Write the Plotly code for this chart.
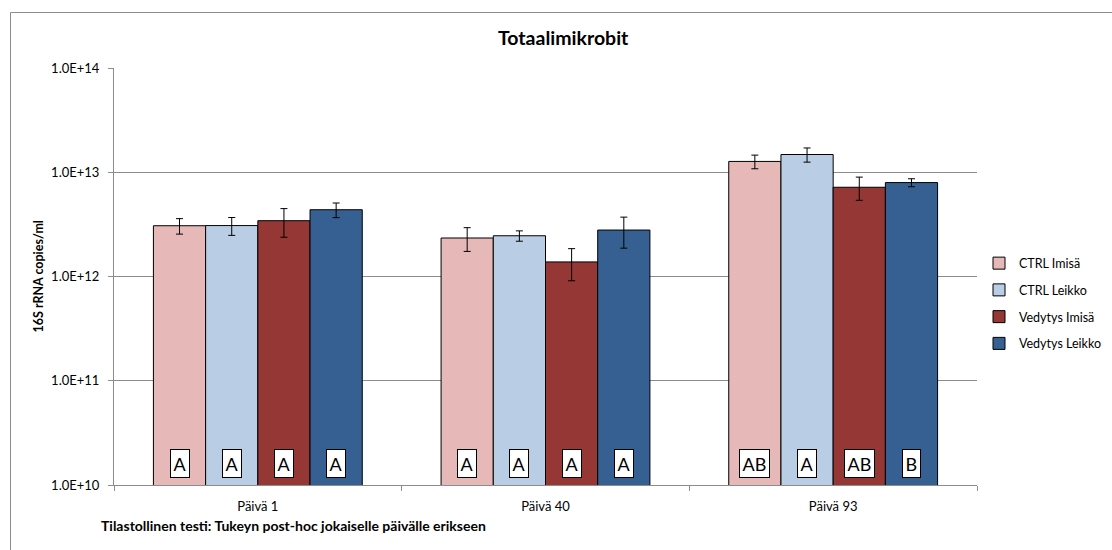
import plotly.graph_objects as go

# Sampling days and treatment groups
days = ["Päivä 1", "Päivä 40", "Päivä 93"]
series_names = ["CTRL Imisä", "CTRL Leikko", "Vedytys Imisä", "Vedytys Leikko"]
series_colors = ["#E6B9B8", "#B9CDE5", "#953735", "#376092"]

# 16S rRNA copies/ml (mean) and error per series, one value per day
ctrl_imisa = [3.07e12, 2.34e12, 1.27e13]
ctrl_imisa_err = [0.52e12, 0.60e12, 0.19e13]
ctrl_leikko = [3.08e12, 2.46e12, 1.48e13]
ctrl_leikko_err = [0.60e12, 0.28e12, 0.23e13]
vedytys_imisa = [3.43e12, 1.38e12, 7.18e12]
vedytys_imisa_err = [1.05e12, 0.47e12, 1.80e12]
vedytys_leikko = [4.37e12, 2.79e12, 7.96e12]
vedytys_leikko_err = [0.70e12, 0.92e12, 0.70e12]

# Tukey post-hoc group letters, per series, per day
letters_ctrl_imisa = ["A", "A", "AB"]
letters_ctrl_leikko = ["A", "A", "A"]
letters_vedytys_imisa = ["A", "A", "AB"]
letters_vedytys_leikko = ["A", "A", "B"]

# Y axis ticks
y_tickvals = [1e10, 1e11, 1e12, 1e13, 1e14]
y_ticktext = ["1.0E+10", "1.0E+11", "1.0E+12", "1.0E+13", "1.0E+14"]

values = [ctrl_imisa, ctrl_leikko, vedytys_imisa, vedytys_leikko]
errors = [ctrl_imisa_err, ctrl_leikko_err, vedytys_imisa_err, vedytys_leikko_err]
letters = [letters_ctrl_imisa, letters_ctrl_leikko, letters_vedytys_imisa, letters_vedytys_leikko]

FONT = "Lato"
GRID = "#8C8C8C"
BARGAP = 0.274

fig = go.Figure()
for i, name in enumerate(series_names):
    fig.add_trace(go.Bar(
        name=name,
        x=days,
        y=values[i],
        marker=dict(color=series_colors[i], line=dict(color="#000000", width=1)),
        error_y=dict(type="data", array=errors[i], visible=True,
                     color="#000000", thickness=1, width=3.5),
        legendgroup=name,
    ))

# Letter boxes near the bottom of each bar
bar_w = (1 - BARGAP) / len(series_names)
annotations = []
for i in range(len(series_names)):
    offset = (i - (len(series_names) - 1) / 2) * bar_w
    for d in range(len(days)):
        annotations.append(dict(
            x=d + offset, y=10.21, xref="x", yref="y",
            text=letters[i][d], showarrow=False,
            font=dict(family=FONT, size=18, color="#000000"),
            bgcolor="#FFFFFF", bordercolor="#000000", borderwidth=1, borderpad=2.5,
            xanchor="center", yanchor="middle",
        ))

W, H = 1112, 550
L, R, T, B = 114, 135, 68, 65
pw, ph = W - L - R, H - T - B


def px_x(p):
    return (p - L) / pw


def px_y(p):
    return (H - B - p) / ph


# Title, axis title and footnote
annotations.append(dict(
    x=px_x(563), y=px_y(37), xref="paper", yref="paper", showarrow=False,
    text="<b>Totaalimikrobit</b>", font=dict(family=FONT, size=19.5, color="#000000"),
    xanchor="center", yanchor="middle",
))
annotations.append(dict(
    x=px_x(38), y=0.5, xref="paper", yref="paper", showarrow=False,
    text="<b>16S rRNA copies/ml</b>", textangle=-90,
    font=dict(family=FONT, size=12.5, color="#000000"),
    xanchor="center", yanchor="middle",
))
annotations.append(dict(
    x=px_x(99), y=px_y(525), xref="paper", yref="paper", showarrow=False,
    text="<b>Tilastollinen testi: Tukeyn post-hoc jokaiselle päivälle erikseen</b>",
    font=dict(family=FONT, size=14, color="#000000"),
    xanchor="left", yanchor="middle",
))

fig.update_layout(
    width=W, height=H,
    margin=dict(l=L, r=R, t=T, b=B, autoexpand=False),
    paper_bgcolor="#FFFFFF", plot_bgcolor="#FFFFFF",
    barmode="group", bargap=BARGAP, bargroupgap=0,
    font=dict(family=FONT, size=13, color="#000000"),
    showlegend=True,
    legend=dict(
        xref="container", yref="container",
        x=979 / W, y=1 - 303.5 / H, xanchor="left", yanchor="middle",
        font=dict(family=FONT, size=12.5, color="#000000"),
        traceorder="grouped", tracegroupgap=7.5,
        bgcolor="rgba(0,0,0,0)", itemwidth=30,
    ),
    annotations=annotations,
    shapes=[dict(
        type="rect", xref="paper", yref="paper",
        x0=px_x(10.5), x1=px_x(1130), y0=px_y(570), y1=px_y(12.5),
        line=dict(color=GRID, width=1), fillcolor="rgba(0,0,0,0)", layer="below",
    )],
)

fig.update_xaxes(
    type="category", categoryorder="array", categoryarray=days,
    showline=True, linecolor=GRID, linewidth=1,
    ticks="outside", tickson="boundaries", ticklen=5, tickcolor=GRID,
    ticklabelstandoff=9,
    showgrid=False, tickfont=dict(family=FONT, size=13),
)
fig.update_yaxes(
    type="log", range=[10, 14],
    tickvals=y_tickvals, ticktext=y_ticktext,
    showline=True, linecolor=GRID, linewidth=1,
    ticks="outside", ticklen=5, tickcolor=GRID,
    ticklabelstandoff=6,
    showgrid=True, gridcolor=GRID, gridwidth=1, zeroline=False,
    tickfont=dict(family=FONT, size=13),
)

fig.write_html("out.html")
